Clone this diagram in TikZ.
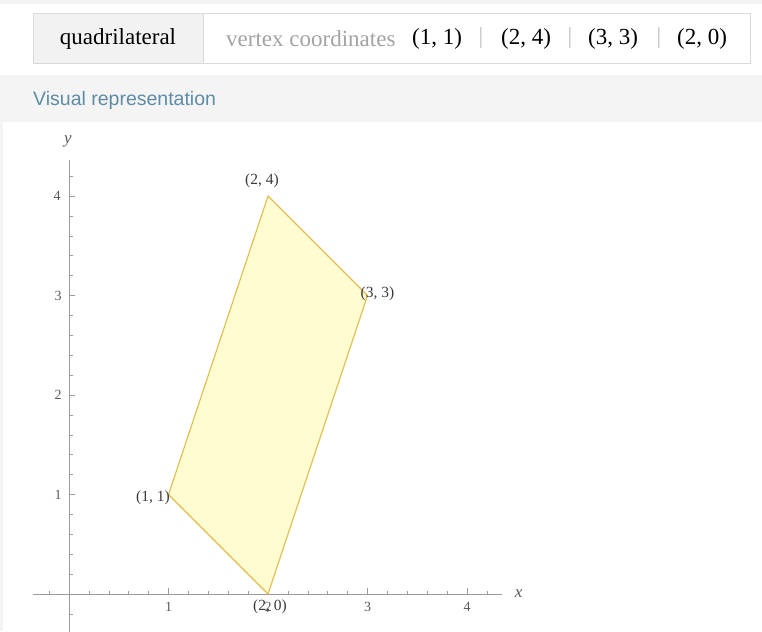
\documentclass[tikz,border=0pt]{standalone}
\usepackage{fontspec}
\setmainfont{Liberation Serif}
\newfontfamily\uisans{Liberation Sans}
\definecolor{cellgray}{HTML}{F2F2F2}
\definecolor{boxline}{HTML}{DADADA}
\definecolor{bandgray}{HTML}{F4F4F4}
\definecolor{bluegray}{HTML}{5E8CA6}
\definecolor{dimtext}{HTML}{A3A3A3}
\definecolor{sepgray}{HTML}{BEBEBE}
\definecolor{polyfill}{HTML}{FFFCD2}
\definecolor{polyline}{HTML}{E3BC4E}
\definecolor{axisgray}{HTML}{9A9A9A}
\definecolor{ticktext}{HTML}{5A5A5A}
\definecolor{vlabel}{HTML}{3A3A3A}
\tikzset{
  hdr/.style={inner sep=0pt, font=\fontsize{23}{27}\selectfont, text=black},
  hdrdim/.style={hdr, text=dimtext},
  hdrsep/.style={hdr, text=sepgray},
  ticklab/.style={inner sep=0pt, font=\fontsize{14}{16}\selectfont, text=ticktext},
  axlab/.style={inner sep=0pt, font=\fontsize{17}{19}\selectfont\itshape, text=ticktext},
  vertlab/.style={inner sep=0pt, font=\fontsize{15.5}{18}\selectfont, text=vlabel},
  axisline/.style={draw=axisgray, line width=0.8pt},
  poly/.style={fill=polyfill, draw=polyline, line width=1.1pt, line join=round},
}
\begin{document}
\begin{tikzpicture}[x=1pt,y=-1pt]
\useasboundingbox (0,0) rectangle (762,631);
\fill[white] (0,0) rectangle (762,631);
% page edges
\fill[bandgray] (0,0) rectangle (762,4);
\fill[bandgray] (0,122) rectangle (2.5,631);
% header table
\draw[boxline, fill=white, line width=0.8pt] (33,13) rectangle (750,63);
\draw[boxline, fill=cellgray, line width=0.8pt] (33,13) rectangle (203,63);
\node[hdr] (title) at (118,39) {quadrilateral};
\node[hdrdim, anchor=west] (vc) at (226,39) {vertex coordinates};
\node[hdr] (c1) at (437,39) {(1, 1)};
\node[hdrsep] (s1) at (481,38) {|};
\node[hdr] (c2) at (526,39) {(2, 4)};
\node[hdrsep] (s2) at (570,38) {|};
\node[hdr] (c3) at (613,39) {(3, 3)};
\node[hdrsep] (s3) at (659,38) {|};
\node[hdr] (c4) at (702,39) {(2, 0)};
% band
\fill[bandgray] (0,75) rectangle (762,122);
\node[inner sep=0pt, anchor=west, font=\uisans\fontsize{19.5}{22}\selectfont, text=bluegray] (vis) at (33,100) {Visual representation};
% plot
\begin{scope}[shift={(69,594)}, x=99.5pt, y=99.5pt]
  % minor ticks
  \foreach \t in {-0.2,0.2,0.4,...,4.21}{
    \draw[axisgray, line width=0.6pt] (\t,0) -- ++(0,3.5pt);
  }
  \foreach \t in {-0.2,0.2,0.4,...,4.21}{
    \draw[axisgray, line width=0.6pt] (0,\t) -- ++(3.5pt,0);
  }
  \foreach \t in {1,2,3,4}{
    \draw[axisgray, line width=0.7pt] (\t,0) -- ++(0,6pt);
    \draw[axisgray, line width=0.7pt] (0,\t) -- ++(6pt,0);
  }
  \draw[axisline] (-0.36,0) -- (4.35,0);
  \draw[axisline] (0,-0.38) -- (0,4.36);
  \node[axlab] (xl) at (4.52,0) {x};
  \node[axlab] (yl) at (-0.01,4.55) {y};
  \node[ticklab] (xt1) at (1,-0.13) {1};
  \node[ticklab] (xt2) at (2,-0.13) {2};
  \node[ticklab] (xt3) at (3,-0.13) {3};
  \node[ticklab] (xt4) at (4,-0.13) {4};
  \node[ticklab] (yt1) at (-0.11,1) {1};
  \node[ticklab] (yt2) at (-0.11,2) {2};
  \node[ticklab] (yt3) at (-0.11,3) {3};
  \node[ticklab] (yt4) at (-0.12,4) {4};
  \coordinate (A) at (1,1);
  \coordinate (B) at (2,4);
  \coordinate (C) at (3,3);
  \coordinate (D) at (2,0);
  \draw[poly] (A) -- (B) -- (C) -- (D) -- cycle;
  \node[vertlab, anchor=east] (la) at ([xshift=1.5pt,yshift=-3pt]A) {(1, 1)};
  \node[vertlab, anchor=south] (lb) at ([xshift=-6pt,yshift=8pt]B) {(2, 4)};
  \node[vertlab, anchor=west] (lc) at ([xshift=-7pt,yshift=2pt]C) {(3, 3)};
  \node[vertlab, anchor=north] (ld) at ([xshift=2pt,yshift=-6pt]D) {(2, 0)};
\end{scope}
\end{tikzpicture}
\end{document}
